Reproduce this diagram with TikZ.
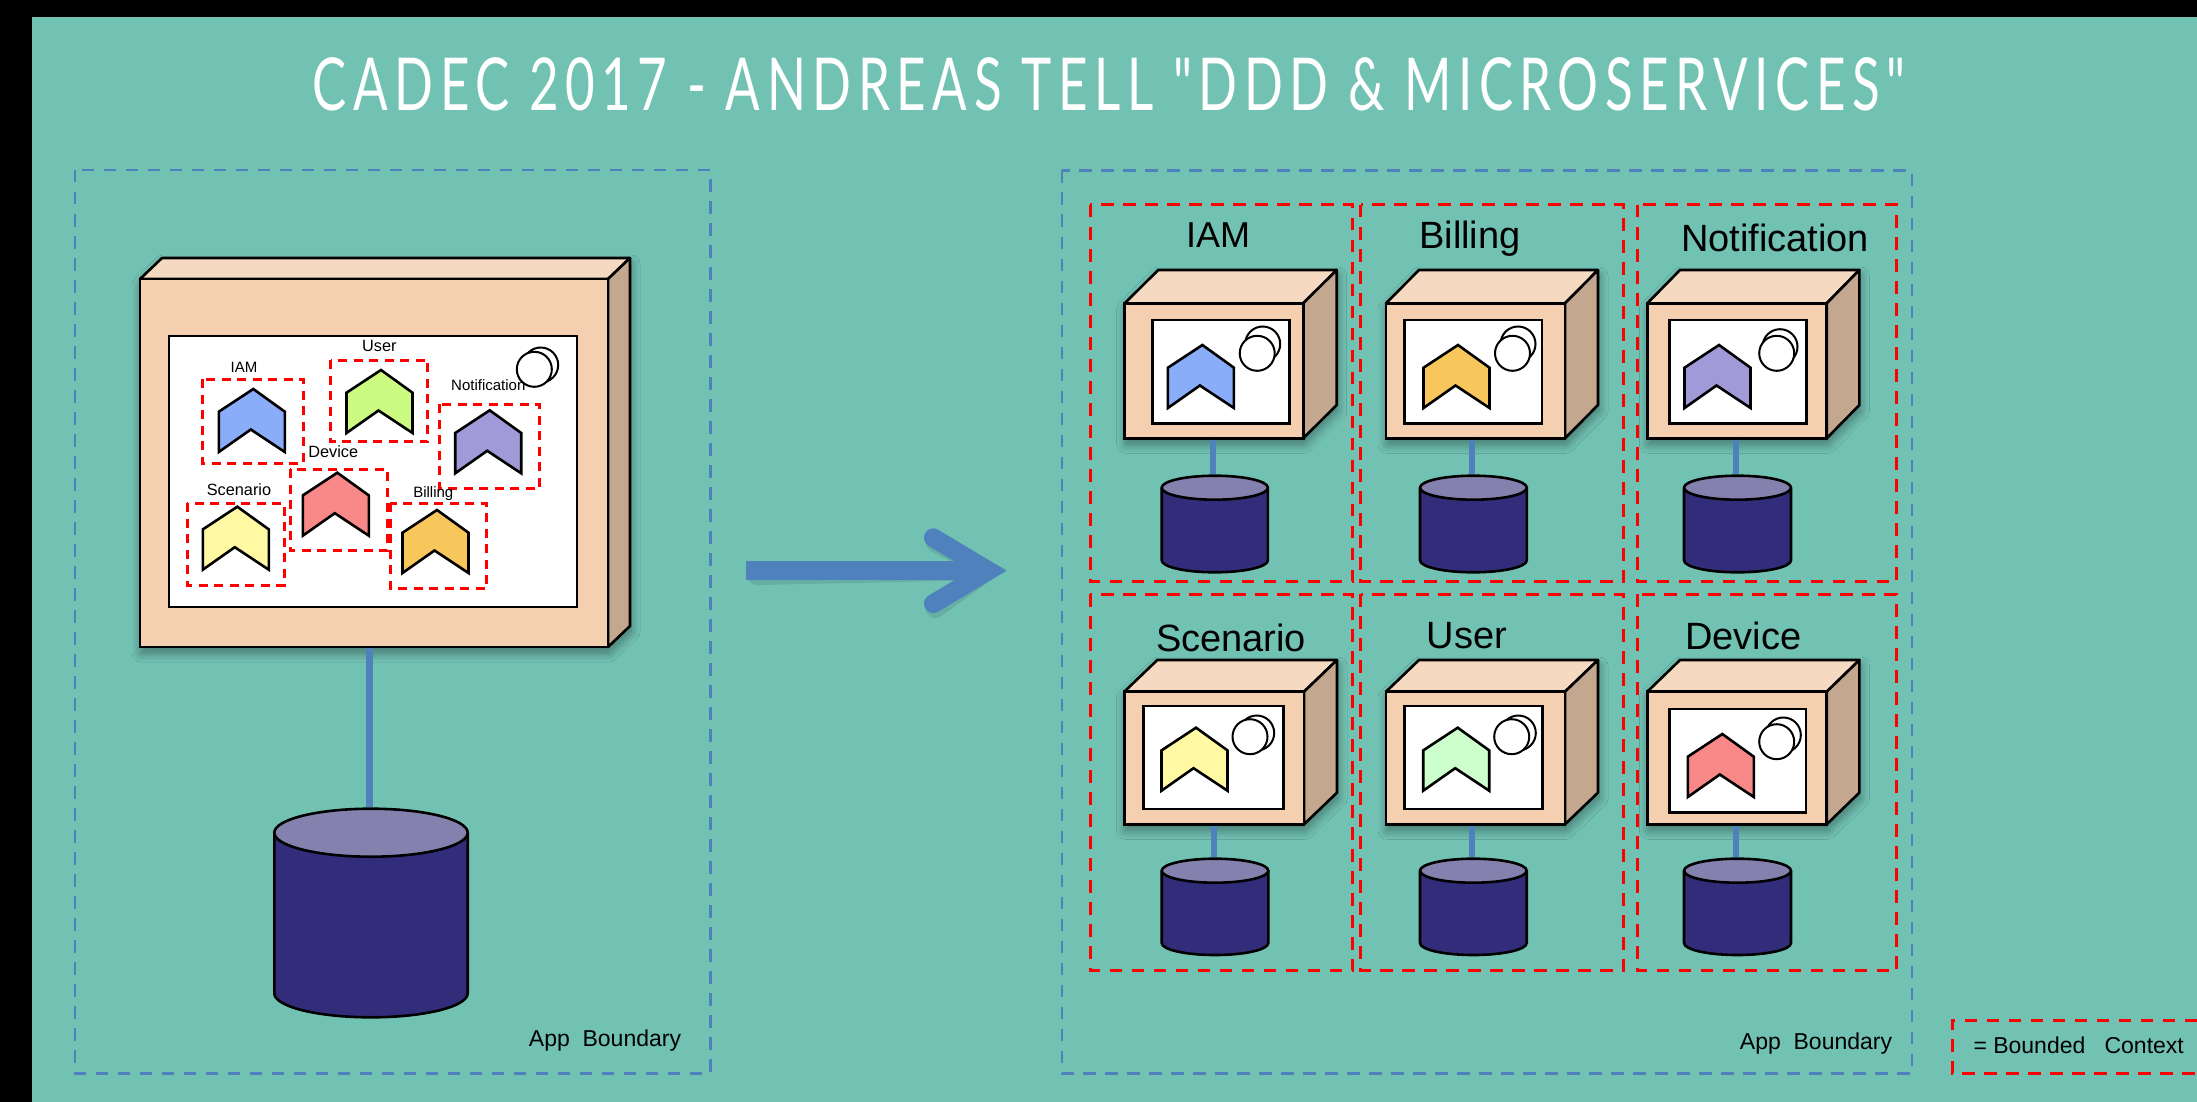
\documentclass[tikz,border=0pt]{standalone}
\usepackage{fontspec}
\setmainfont{Liberation Sans}
\newfontfamily\titlefont[FakeStretch=0.7,LetterSpace=9]{Lato}
\usetikzlibrary{shadows.blur}
\definecolor{slidebg}{HTML}{72C2B4}
\definecolor{linkblue}{HTML}{4F81BD}
\definecolor{boxfront}{HTML}{F4D0B1}
\definecolor{boxtop}{HTML}{F5D9C1}
\definecolor{boxside}{HTML}{C3A78F}
\definecolor{dbbody}{HTML}{312D7A}
\definecolor{dbtop}{HTML}{8581AE}
\definecolor{iamcol}{HTML}{8AADFA}
\definecolor{usercol}{HTML}{CCFB82}
\definecolor{usercolb}{HTML}{CCFFCC}
\definecolor{notecol}{HTML}{A09AD8}
\definecolor{devcol}{HTML}{F98888}
\definecolor{scencol}{HTML}{FFF9A4}
\definecolor{billcol}{HTML}{F7C75C}
\begin{document}
\begin{tikzpicture}[x=1pt, y=-1pt,
    softshadow/.style={blur shadow={shadow xshift=1pt, shadow yshift=-6pt,
        shadow blur radius=9pt, shadow blur steps=14, shadow opacity=40}},
    solid box/.style={draw, line width=2.8pt, line join=miter, inner sep=0pt,
        outer sep=0pt, anchor=north west, rectangle},
    frontface/.style={solid box, fill=boxfront},
    innerface/.style={solid box, fill=white, line width=2.5pt},
    facet/.style={draw, line width=2.6pt, line join=round},
    chevronshape/.style={draw, line width=2.6pt, line join=miter},
    instance/.style={draw, fill=white, line width=2pt},
    link/.style={linkblue, line width=6pt, shorten <=1.3pt, shorten >=1.3pt},
    biglink/.style={link, line width=6.8pt},
    appframe/.style={linkblue, line width=2.5pt, dash pattern=on 12.5pt off 9.5pt},
    contextframe/.style={red, line width=3pt, dash pattern=on 12.5pt off 9.5pt},
    smallframe/.style={red, line width=3pt, dash pattern=on 9pt off 6.5pt},
    smalltext/.style={font=\fontsize{15}{18}\selectfont, inner sep=0pt},
    widesmall/.style={font=\fontsize{16.3}{18}\selectfont, inner sep=0pt},
    midtext/.style={font=\fontsize{23}{28}\selectfont, inner sep=0pt},
    bigtext/.style={font=\fontsize{38}{44}\selectfont, inner sep=0pt}]

  \newcommand\appbox[7]{
    %% #1 name, #2 #3 corner, #4 #5 size, #6 #7 depth
    \path[softshadow, fill=boxfront] (#2,#3) -- ++(#6,-#7) -- ++(#4,0)
      -- ++(0,#5) -- ++(-#6,#7) -- ++(-#4,0) -- cycle;
    \draw[facet, fill=boxtop] (#2,#3) -- ++(#6,-#7) -- ++(#4,0) -- ++(-#6,#7) -- cycle;
    \draw[facet, fill=boxside] (#2+#4,#3) -- ++(#6,-#7) -- ++(0,#5) -- ++(-#6,#7) -- cycle;
    \node[frontface, minimum width=#4, minimum height=#5] (#1) at (#2,#3) {};
  }
  \newcommand\innerbox[5]{
    \node[innerface, minimum width=#4, minimum height=#5] (#1) at (#2,#3) {};
  }
  \newcommand\chevronat[3]{
    \draw[chevronshape, fill=#3, shift={(#1,#2)}]
      (0,0) -- (31.5,22.7) -- (31.5,63) -- (-2.5,40.5) -- (-34.5,63) -- (-34.5,22.7) -- cycle;
  }
  \newcommand\instances[4]{
    \draw[instance] (#1,#2) circle[radius=17.5];
    \draw[instance] (#3,#4) circle[radius=17.5];
  }
  \newcommand\database[6]{
    %% #1 name, #2 left, #3 top ellipse, #4 width, #5 bottom, #6 ry
    \draw[facet, fill=dbbody] (#2,#3) -- (#2,#5-#6)
      .. controls (#2,#5-0.45*#6) and (#2+0.22*#4,#5) .. (#2+0.5*#4,#5)
      .. controls (#2+0.78*#4,#5) and (#2+#4,#5-0.45*#6) .. (#2+#4,#5-#6) -- (#2+#4,#3) -- cycle;
    \draw[facet, fill=dbtop] (#2+0.5*#4,#3) ellipse[x radius=0.5*#4, y radius=#6];
    \coordinate (#1) at (#2+0.5*#4-1.5,#3-#6);
  }

  \fill[black] (0,0) rectangle (2197,1102);
  \fill[slidebg] (32,17) rectangle (2197,1102);
  \useasboundingbox (0,0) rectangle (2197,1102);

  \node[white, inner sep=0pt] (title) at (1109,84.5)
    {\fontsize{73}{80}\selectfont\titlefont CADEC 2017 - ANDREAS TELL "DDD \& MICROSERVICES"};

  %% app boundaries
  \draw[appframe] (75,170) rectangle (710.3,1073.3);
  \draw[appframe] (1062,170.5) rectangle (1912,1073.3);
  \node[midtext] (leftboundary) at (605,1041) {App~~Boundary};
  \node[midtext] (rightboundary) at (1816,1044) {App~~Boundary};

  %% the one big app
  \appbox{bigBox}{140}{279}{468}{368}{22}{21}
  \innerbox{bigInner}{169}{336}{408}{271}
  \instances{540.7}{365}{534.3}{369.3}

  \draw[smallframe] (202.7,379.3) rectangle (303.3,463.3);
  \draw[smallframe] (330.7,360) rectangle (427.7,441.7);
  \draw[smallframe] (439.3,404) rectangle (539.3,488.3);
  \draw[smallframe] (290,469.3) rectangle (387.3,550.7);
  \draw[smallframe] (187.3,503.3) rectangle (284.3,585);
  \draw[smallframe] (390,503.3) rectangle (486.7,588.3);

  \chevronat{253.3}{389}{iamcol}
  \chevronat{381}{370}{usercol}
  \chevronat{489.7}{410.3}{notecol}
  \chevronat{337.3}{472.7}{devcol}
  \chevronat{237.3}{506.7}{scencol}
  \chevronat{437}{510}{billcol}

  \node[smalltext] (bigIam) at (244,367.7) {IAM};
  \node[widesmall] (bigUser) at (379.3,345.5) {User};
  \node[smalltext] (bigNote) at (488.3,385) {Notification};
  \node[widesmall] (bigDev) at (333.3,452) {Device};
  \node[widesmall] (bigScen) at (239,489.2) {Scenario};
  \node[smalltext] (bigBill) at (433.3,493.3) {Billing};

  \database{bigDb}{274.3}{832.7}{193.4}{1017.3}{24}
  \draw[biglink] (bigBox.south -| bigDb) -- (bigDb);

  %% the arrow between both sides
  \coordinate (arrowfrom) at (746,570.7);
  \coordinate (arrowto) at (988.3,570.7);
  \draw[black, opacity=0.1, line width=18.7pt, line cap=round, line join=miter, shift={(2,5)}]
    (933.3,537.7) -- (arrowto) -- (933.3,603.7) (755,570.7) -- (arrowto);
  \draw[linkblue, line width=18.7pt, line cap=round, line join=miter]
    (933.3,537.7) -- (arrowto) -- (933.3,603.7);
  \draw[linkblue, line width=18.7pt] (arrowfrom) -- (arrowto);

  %% bounded contexts
  \draw[contextframe] (1090.3,205) rectangle (1352.3,581.7);
  \draw[contextframe] (1360.8,205) rectangle (1623,581.7);
  \draw[contextframe] (1637.3,205) rectangle (1896.7,581.7);
  \draw[contextframe] (1090.3,594.3) rectangle (1352.7,970.7);
  \draw[contextframe] (1360.8,594.3) rectangle (1623.3,970.7);
  \draw[contextframe] (1637.3,594.3) rectangle (1896.7,970.7);

  \node[bigtext, font=\fontsize{36}{42}\selectfont] (iamLabel) at (1218,235) {IAM};
  \node[bigtext] (billLabel) at (1470,238.5) {Billing};
  \node[bigtext] (noteLabel) at (1775,238) {Notification};
  \node[bigtext] (scenLabel) at (1231,638) {Scenario};
  \node[bigtext] (userLabel) at (1466.7,636) {User};
  \node[bigtext] (devLabel) at (1743.3,636) {Device};

  \appbox{iamBox}{1124.7}{303.3}{178.5}{135}{33.5}{33.3}
  \innerbox{iamInner}{1152.5}{320}{137.2}{103.3}
  \instances{1262.7}{344}{1257.2}{353.3}
  \chevronat{1202.4}{345}{iamcol}
  \database{iamDb}{1161.7}{487.7}{106.2}{572.3}{12}
  \draw[link] (iamBox.south -| iamDb) -- (iamDb);

  \appbox{billBox}{1386}{303.3}{179}{135}{33}{33.3}
  \innerbox{billInner}{1404.4}{320}{137.6}{103.3}
  \instances{1518}{344}{1512.5}{353.3}
  \chevronat{1458}{345}{billcol}
  \database{billDb}{1420}{487.7}{106.8}{572.3}{12}
  \draw[link] (billBox.south -| billDb) -- (billDb);

  \appbox{noteBox}{1647.3}{303.3}{179.4}{135}{32.7}{33.3}
  \innerbox{noteInner}{1669.3}{320}{137.4}{103.3}
  \instances{1780}{346.7}{1776.7}{353.3}
  \chevronat{1719}{345}{notecol}
  \database{noteDb}{1684}{487.7}{107}{572.3}{12}
  \draw[link] (noteBox.south -| noteDb) -- (noteDb);

  \appbox{scenBox}{1124.3}{691.7}{179.7}{132.6}{33}{31.7}
  \innerbox{scenInner}{1143.3}{706}{140}{103}
  \instances{1256.7}{733}{1250}{736.7}
  \chevronat{1196}{727.7}{scencol}
  \database{scenDb}{1161.7}{870.7}{106.6}{955}{12}
  \draw[link] (scenBox.south -| scenDb) -- (scenDb);

  \appbox{userBox}{1386}{691.7}{179}{132.6}{33}{31.7}
  \innerbox{userInner}{1404.3}{706}{138}{103}
  \instances{1518.3}{733}{1511.7}{736.7}
  \chevronat{1457.7}{727.7}{usercolb}
  \database{userDb}{1420}{870.7}{106.7}{955}{12}
  \draw[link] (userBox.south -| userDb) -- (userDb);

  \appbox{devBox}{1647.3}{691.7}{179.4}{132.6}{32.7}{31.7}
  \innerbox{devInner}{1669.3}{709}{136.7}{103.3}
  \instances{1783.3}{735}{1776.7}{741.7}
  \chevronat{1722.3}{734}{devcol}
  \database{devDb}{1684}{870.7}{107}{955}{12}
  \draw[link] (devBox.south -| devDb) -- (devDb);

  %% legend
  \draw[contextframe] (2197,1020) -- (1952.3,1020) -- (1952.3,1073.3) -- (2197,1073.3);
  \node[midtext, anchor=west] (legend) at (1973.3,1045) {= Bounded~~~Context};

\end{tikzpicture}
\end{document}
